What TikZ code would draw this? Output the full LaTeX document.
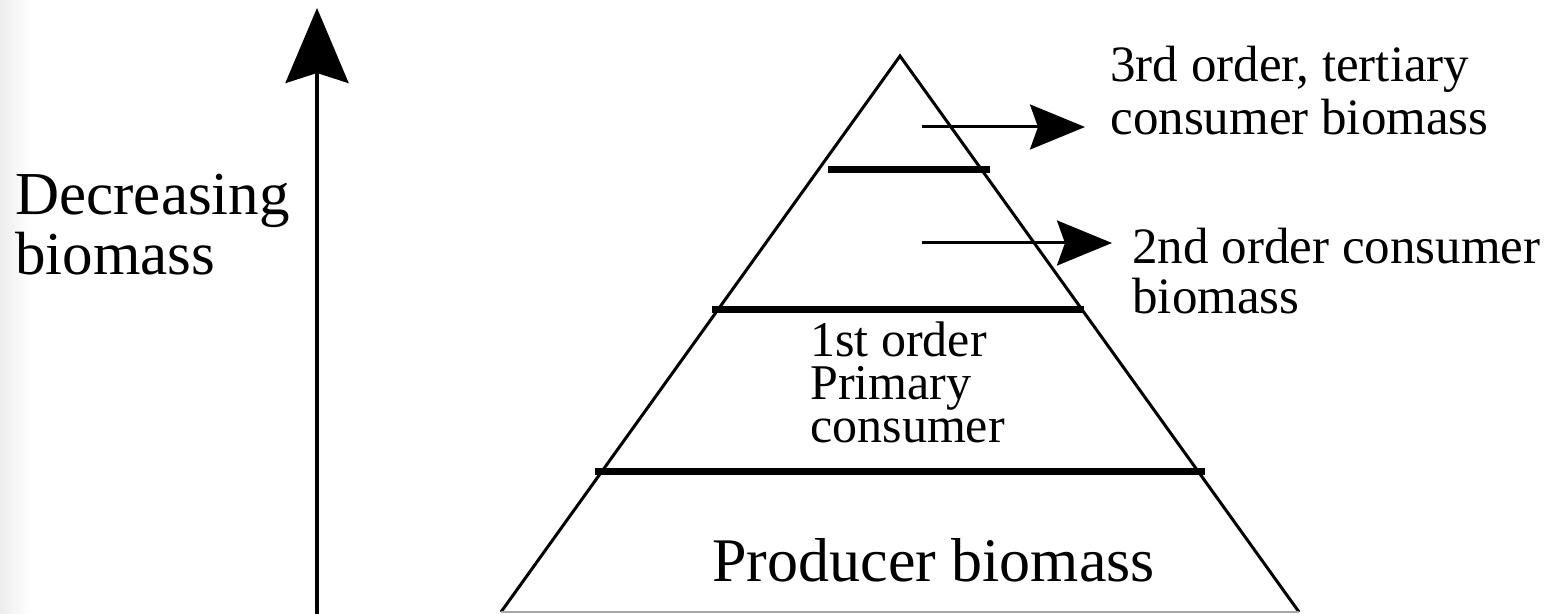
\documentclass[tikz,border=0pt]{standalone}
\usepackage{fontspec}
\setmainfont{Liberation Serif}
\usetikzlibrary{arrows.meta}

\begin{document}
\begin{tikzpicture}[x=0.5pt, y=-0.5pt,
    side/.style={line width=1.5pt, line join=miter},
    level/.style={line width=3.5pt},
    pointer/.style={line width=1.5pt, -{Stealth[length=27.5pt, width=22.5pt, inset=4pt]}},
    label/.style={align=left, inner sep=0pt, anchor=base west}]

    % --- Canvas ---
    \useasboundingbox (0,0) rectangle (1565,614);
    \shade[left color=gray!14, right color=white] (0,0) rectangle (32,614);

    % --- Pyramid ---
    \coordinate (apex) at (900,56);
    \coordinate (baseL) at (501,612);
    \coordinate (baseR) at (1299,612);
    \draw[side] (baseL) -- (apex) -- (baseR);
    \draw[line width=1pt, gray!70] (baseL) -- (baseR);

    % trophic level boundaries
    \draw[level] (828,170) -- (990,170);
    \draw[level] (712,310) -- (1084,310);
    \draw[level] (595,472) -- (1205,472);

    % --- Labels (placed at the baseline of their last line) ---
    \node[label, font=\fontsize{30.5}{30}\selectfont] (trend) at (15,275) {Decreasing\\biomass};
    \node[label, font=\fontsize{25.5}{26.5}\selectfont] (tertiary) at (1110,135) {3rd order, tertiary\\consumer biomass};
    \node[label, font=\fontsize{25.5}{25}\selectfont] (secondary) at (1132,314) {2nd order consumer\\biomass};
    \node[label, font=\fontsize{25}{21.5}\selectfont] (primary) at (810,443) {1st order\\Primary\\consumer};
    \node[label, font=\fontsize{31}{31}\selectfont] (producer) at (712,582) {Producer biomass};

    % --- Arrows ---
    \coordinate (in3) at (922,127);
    \coordinate (in2) at (922,243);
    \draw[pointer, shorten >=12.5pt] (in3) -- (in3 -| tertiary.west);
    \draw[pointer, shorten >=10pt] (in2) -- (in2 -| secondary.west);

    % Decreasing biomass axis
    \coordinate (low) at (317,614);
    \coordinate (high) at (317,8);
    \draw[line width=2pt, -{Stealth[length=37.5pt, width=31.5pt, inset=5pt]}] (low) -- (high);

\end{tikzpicture}
\end{document}
